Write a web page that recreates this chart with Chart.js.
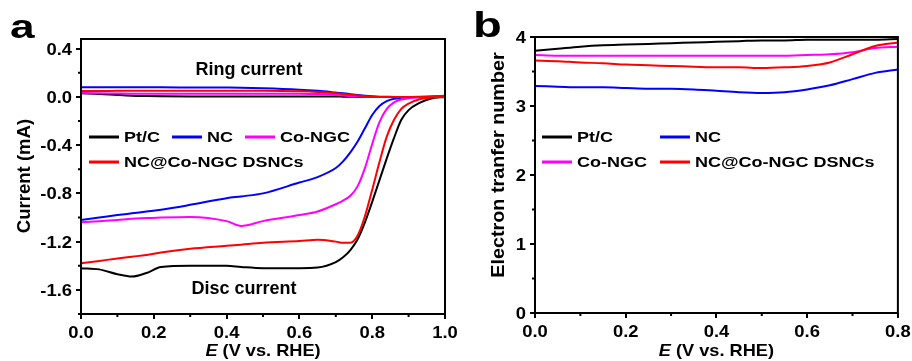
<!DOCTYPE html>
<html>
<head>
<meta charset="utf-8">
<script src="https://cdn.jsdelivr.net/npm/chart.js@4.4.0/dist/chart.umd.min.js"></script>
<style>
  html, body { margin: 0; padding: 0; background: #fff; }
  #wrap { position: relative; width: 912px; height: 361px; }
  #chartA { position: absolute; left: 0; top: 0; }
  #chartB { position: absolute; left: 460px; top: 0; }
</style>
</head>
<body>
<div id="wrap">
  <canvas id="chartA" width="460" height="361"></canvas>
  <canvas id="chartB" width="452" height="361"></canvas>
</div>
<script>
// ---- panel a: disc and ring currents vs potential ----
var potA = [0, 0.05, 0.1, 0.14, 0.18, 0.22, 0.3, 0.4, 0.44, 0.5, 0.6, 0.65, 0.7, 0.72, 0.74, 0.76, 0.78, 0.8, 0.82, 0.84, 0.86, 0.88, 0.9, 0.93, 0.96, 1.0];
var discPtC   = [-1.42, -1.43, -1.47, -1.49, -1.46, -1.41, -1.40, -1.40, -1.41, -1.42, -1.42, -1.415, -1.37, -1.33, -1.27, -1.18, -1.04, -0.87, -0.69, -0.51, -0.34, -0.19, -0.11, -0.05, -0.015, 0];
var discNC    = [-1.02, -1.0, -0.98, -0.965, -0.95, -0.935, -0.895, -0.84, -0.825, -0.80, -0.71, -0.665, -0.59, -0.535, -0.46, -0.37, -0.26, -0.15, -0.075, -0.035, -0.016, -0.008, -0.004, 0, 0, 0];
var discCoNGC = [-1.04, -1.03, -1.02, -1.01, -1.005, -1.0, -0.995, -1.03, -1.07, -1.03, -0.98, -0.95, -0.89, -0.86, -0.82, -0.74, -0.59, -0.39, -0.21, -0.10, -0.045, -0.022, -0.011, -0.004, 0, 0];
var discDSNC  = [-1.38, -1.36, -1.34, -1.325, -1.31, -1.29, -1.26, -1.235, -1.225, -1.21, -1.195, -1.185, -1.20, -1.21, -1.21, -1.15, -0.99, -0.77, -0.54, -0.33, -0.19, -0.10, -0.055, -0.02, -0.005, 0];
var ringPtC   = [0.03, 0.025, 0.016, 0.01, 0.007, 0.005, 0.004, 0.004, 0.004, 0.004, 0.004, 0.004, 0.003, 0.002, 0.001, 0, 0, 0, 0, 0, 0, 0, 0, 0, 0, 0.005];
var ringNC    = [0.08, 0.08, 0.08, 0.08, 0.079, 0.079, 0.078, 0.077, 0.076, 0.072, 0.06, 0.05, 0.036, 0.03, 0.023, 0.016, 0.01, 0.005, 0.002, 0.001, 0, 0, 0, 0, 0, 0.005];
var ringCoNGC = [0.035, 0.03, 0.028, 0.027, 0.027, 0.027, 0.027, 0.027, 0.027, 0.027, 0.026, 0.023, 0.016, 0.012, 0.007, 0.004, 0.002, 0.001, 0, 0, 0, 0, 0, 0, 0, 0];
var ringDSNC  = [0.048, 0.048, 0.05, 0.05, 0.05, 0.05, 0.05, 0.05, 0.05, 0.05, 0.046, 0.04, 0.03, 0.024, 0.018, 0.012, 0.006, 0.002, 0, 0, 0, 0, 0, 0.002, 0.005, 0.01];

// ---- panel b: electron transfer number vs potential ----
var potB = [0, 0.05, 0.1, 0.15, 0.2, 0.25, 0.3, 0.35, 0.4, 0.45, 0.5, 0.55, 0.6, 0.65, 0.7, 0.75, 0.8];
var nPtC   = [3.80, 3.83, 3.86, 3.88, 3.89, 3.90, 3.91, 3.92, 3.93, 3.94, 3.95, 3.95, 3.96, 3.96, 3.96, 3.96, 3.97];
var nNC    = [3.29, 3.28, 3.27, 3.27, 3.26, 3.25, 3.25, 3.24, 3.22, 3.20, 3.19, 3.20, 3.24, 3.30, 3.39, 3.48, 3.53];
var nCoNGC = [3.74, 3.73, 3.73, 3.73, 3.73, 3.73, 3.73, 3.73, 3.73, 3.73, 3.73, 3.73, 3.74, 3.75, 3.78, 3.84, 3.86];
var nDSNC  = [3.66, 3.65, 3.63, 3.62, 3.60, 3.59, 3.58, 3.57, 3.56, 3.56, 3.55, 3.56, 3.58, 3.63, 3.75, 3.87, 3.92];

var names  = ['Pt/C', 'NC', 'Co-NGC', 'NC@Co-NGC DSNCs'];
var colors = ['#000000', '#0000ff', '#ff00ff', '#ff0000'];

var FONT = '"Liberation Sans", Arial, sans-serif';

function pts(xs, ys) {
  return xs.map(function (x, i) { return { x: x, y: ys[i] }; });
}

function line(label, xs, ys, k) {
  return {
    label: label,
    data: pts(xs, ys),
    borderColor: colors[k],
    borderWidth: 2,
    pointRadius: 0,
    cubicInterpolationMode: 'monotone',
    order: 3 - k   // red ends up on top
  };
}

// draw text, optionally squeezed/stretched horizontally and rotated
function txt(ctx, s, x, y, o) {
  ctx.save();
  ctx.translate(x, y);
  if (o.rot) ctx.rotate(o.rot);
  ctx.scale(o.sx || 1, 1);
  ctx.font = (o.style || 'bold') + ' ' + o.size + 'px ' + FONT;
  ctx.textAlign = o.align || 'left';
  ctx.textBaseline = o.base || 'alphabetic';
  ctx.fillStyle = '#000';
  ctx.fillText(s, 0, 0);
  ctx.restore();
}

function fmt(v, dec) {
  if (Math.abs(v) < 1e-9) v = 0;
  return v.toFixed(dec);
}

var framePlugin = {
  id: 'frame',
  afterDraw: function (chart) {
    var ctx = chart.ctx, a = chart.chartArea, o = chart.options.plugins.frame;
    var sx = chart.scales.x, sy = chart.scales.y;
    ctx.save();
    ctx.strokeStyle = '#000';
    ctx.lineWidth = 2;
    ctx.strokeRect(a.left, a.top, a.right - a.left, a.bottom - a.top);

    // minor ticks
    ctx.beginPath();
    var v, p;
    for (v = sx.min; v <= sx.max + 1e-9; v += o.minorX) {
      if (Math.abs(v / o.majorX - Math.round(v / o.majorX)) < 1e-6) continue;
      p = sx.getPixelForValue(v);
      ctx.moveTo(p, a.bottom); ctx.lineTo(p, a.bottom + 3);
    }
    for (v = Math.ceil(sy.min / o.minorY - 1e-6) * o.minorY; v <= sy.max + 1e-9; v += o.minorY) {
      if (Math.abs(v / o.majorY - Math.round(v / o.majorY)) < 1e-6) continue;
      p = sy.getPixelForValue(v);
      ctx.moveTo(a.left, p); ctx.lineTo(a.left - 3, p);
    }
    ctx.stroke();

    // tick labels
    sx.ticks.forEach(function (t) {
      txt(ctx, fmt(t.value, o.xDec), sx.getPixelForValue(t.value), a.bottom + 24, { size: 16, sx: 1.15, align: 'center' });
    });
    sy.ticks.forEach(function (t) {
      txt(ctx, fmt(t.value, o.yDec), a.left - 9, sy.getPixelForValue(t.value) + 6, { size: 16, sx: 1.15, align: 'right' });
    });

    // axis titles
    var cx = (a.left + a.right) / 2;
    ctx.font = 'italic bold 17px ' + FONT;
    var wE = ctx.measureText('E').width * 1.07;
    ctx.font = 'bold 17px ' + FONT;
    var wR = ctx.measureText(' (V vs. RHE)').width * 1.07;
    var x0 = cx - (wE + wR) / 2;
    txt(ctx, 'E', x0, 356, { size: 17, sx: 1.07, style: 'italic bold' });
    txt(ctx, ' (V vs. RHE)', x0 + wE, 356, { size: 17, sx: 1.07 });
    txt(ctx, o.yTitle.text, o.yTitle.x, o.yTitle.y, { size: 18, sx: o.yTitle.sx, rot: -Math.PI / 2, align: 'center', base: 'middle' });

    // legend
    o.legend.forEach(function (e) {
      ctx.beginPath();
      ctx.strokeStyle = colors[e.k];
      ctx.lineWidth = 3;
      ctx.moveTo(e.x, e.y); ctx.lineTo(e.x + 30, e.y);
      ctx.stroke();
      txt(ctx, names[e.k], e.x + 35, e.y + 5, { size: 15, sx: 1.2 });
    });

    // notes and panel letter
    o.notes.forEach(function (n) {
      txt(ctx, n.text, n.x, n.y, { size: n.size, sx: n.sx, align: n.align });
    });
    ctx.restore();
  }
};

function axisOpts(min, max, step, fit) {
  return {
    type: 'linear',
    min: min,
    max: max,
    afterFit: fit,
    border: { display: false },
    grid: { drawOnChartArea: false, drawTicks: true, tickLength: 5, color: '#000', lineWidth: 2 },
    ticks: { stepSize: step, includeBounds: false, autoSkip: false, color: 'rgba(0,0,0,0)', font: { size: 16 } }
  };
}

new Chart(document.getElementById('chartA'), {
  type: 'line',
  data: {
    datasets: [
      line('Pt/C disc', potA, discPtC, 0),
      line('NC disc', potA, discNC, 1),
      line('Co-NGC disc', potA, discCoNGC, 2),
      line('NC@Co-NGC DSNCs disc', potA, discDSNC, 3),
      line('Pt/C ring', potA, ringPtC, 0),
      line('NC ring', potA, ringNC, 1),
      line('Co-NGC ring', potA, ringCoNGC, 2),
      line('NC@Co-NGC DSNCs ring', potA, ringDSNC, 3)
    ]
  },
  options: {
    responsive: false,
    animation: false,
    layout: { padding: { top: 39, right: 15, left: 0, bottom: 0 } },
    plugins: {
      legend: { display: false },
      tooltip: { enabled: false },
      frame: {
        majorX: 0.2, minorX: 0.1, majorY: 0.4, minorY: 0.2, xDec: 1, yDec: 1,
        yTitle: { text: 'Current (mA)', x: 25, y: 176, sx: 1.03 },
        legend: [{ k: 0, x: 89, y: 137 }, { k: 1, x: 172, y: 137 }, { k: 2, x: 245, y: 137 }, { k: 3, x: 89, y: 162 }],
        notes: [
          { text: 'a', x: 10, y: 38, size: 34, sx: 1.3, align: 'left' },
          { text: 'Ring current', x: 249, y: 75, size: 18, sx: 1, align: 'center' },
          { text: 'Disc current', x: 244, y: 294, size: 18, sx: 1, align: 'center' }
        ]
      }
    },
    scales: {
      x: axisOpts(0, 1, 0.2, function (s) { s.height = 47; }),
      y: axisOpts(-1.8, 0.48, 0.4, function (s) { s.width = 81; })
    }
  },
  plugins: [framePlugin]
});

new Chart(document.getElementById('chartB'), {
  type: 'line',
  data: {
    datasets: [
      line('Pt/C', potB, nPtC, 0),
      line('NC', potB, nNC, 1),
      line('Co-NGC', potB, nCoNGC, 2),
      line('NC@Co-NGC DSNCs', potB, nDSNC, 3)
    ]
  },
  options: {
    responsive: false,
    animation: false,
    layout: { padding: { top: 37, right: 14, left: 0, bottom: 0 } },
    plugins: {
      legend: { display: false },
      tooltip: { enabled: false },
      frame: {
        majorX: 0.2, minorX: 0.1, majorY: 1, minorY: 0.5, xDec: 1, yDec: 0,
        yTitle: { text: 'Electron tranfer number', x: 39, y: 165, sx: 1.1 },
        legend: [{ k: 0, x: 82, y: 137 }, { k: 1, x: 200, y: 137 }, { k: 2, x: 82, y: 162 }, { k: 3, x: 200, y: 162 }],
        notes: [
          { text: 'b', x: 13, y: 37, size: 35, sx: 1.35, align: 'left' }
        ]
      }
    },
    scales: {
      x: axisOpts(0, 0.8, 0.2, function (s) { s.height = 48; }),
      y: axisOpts(0, 4, 1, function (s) { s.width = 75; })
    }
  },
  plugins: [framePlugin]
});
</script>
</body>
</html>
